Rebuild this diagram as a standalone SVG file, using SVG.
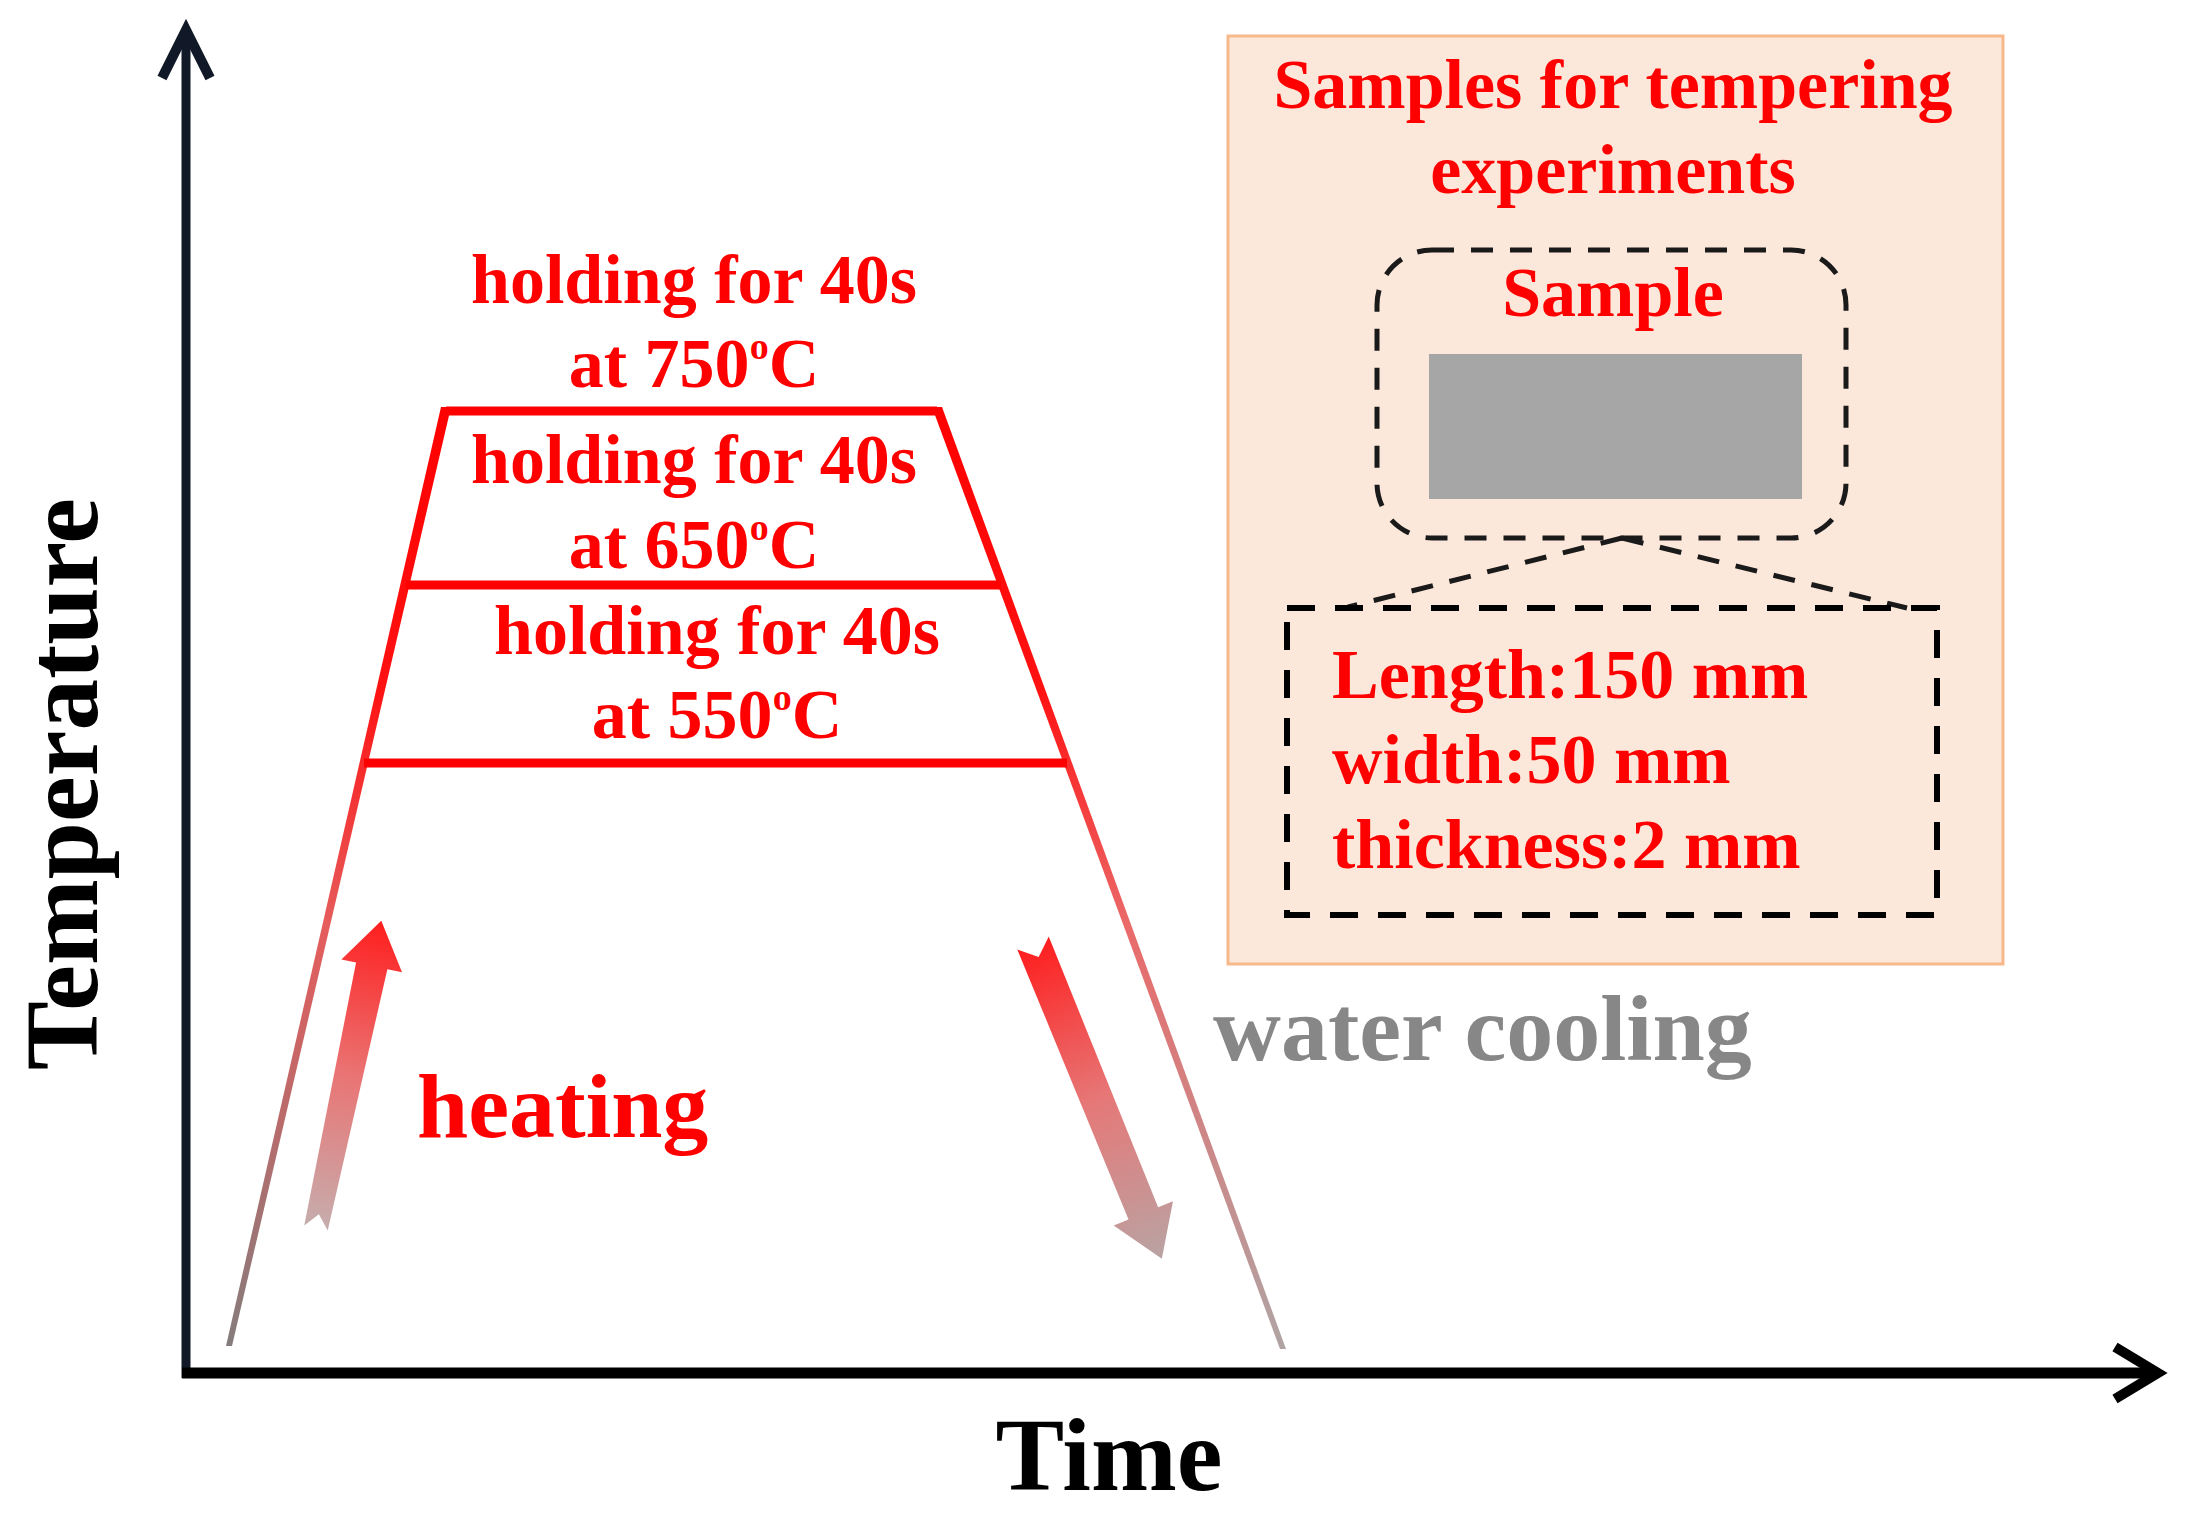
<svg xmlns="http://www.w3.org/2000/svg" width="2199" height="1534" viewBox="0 0 2199 1534">
<defs>
<linearGradient id="sideL" gradientUnits="userSpaceOnUse" x1="0" y1="407" x2="0" y2="1346">
<stop offset="0" stop-color="#ff0000"/>
<stop offset="0.3" stop-color="#ff1212"/>
<stop offset="0.55" stop-color="#e65c5c"/>
<stop offset="1" stop-color="#857c7c"/>
</linearGradient>
<linearGradient id="sideR" gradientUnits="userSpaceOnUse" x1="0" y1="407" x2="0" y2="1349">
<stop offset="0" stop-color="#ff0000"/>
<stop offset="0.3" stop-color="#ff1212"/>
<stop offset="0.55" stop-color="#ea6a6a"/>
<stop offset="1" stop-color="#b0a4a4"/>
</linearGradient>
<linearGradient id="heatG" x1="0" y1="1" x2="0" y2="0">
<stop offset="0" stop-color="#c6adad"/>
<stop offset="0.5" stop-color="#ea7474"/>
<stop offset="1" stop-color="#ff1e1e"/>
</linearGradient>
<linearGradient id="coolG" x1="0" y1="1" x2="0" y2="0">
<stop offset="0" stop-color="#ff1e1e"/>
<stop offset="0.5" stop-color="#e67878"/>
<stop offset="1" stop-color="#b9a3a3"/>
</linearGradient>
</defs>
<style>
.t{font-family:"Liberation Serif","Times New Roman",serif;font-weight:bold}
.red{fill:#ff0000}
.lbl{font-size:70px}
.big{font-size:103px;fill:#000}
.hold{stroke:#ff0000;stroke-width:9;fill:none}
.dash{fill:none;stroke:#1a1a1a;stroke-width:5;stroke-dasharray:22 17}
.dash2{fill:none;stroke:#000;stroke-width:6;stroke-dasharray:28 20}
.axis{fill:none;stroke-linecap:butt;stroke-linejoin:miter}
</style>
<rect width="2199" height="1534" fill="#fff"/>

<g id="axes">
<line class="axis" x1="186" y1="34" x2="186" y2="1378" stroke="#111827" stroke-width="9"/>
<polyline class="axis" points="162,78 186,30 210,78" stroke="#111827" stroke-width="10" stroke-linecap="round"/>
<line class="axis" x1="182" y1="1373" x2="2152" y2="1373" stroke="#000" stroke-width="11"/>
<polyline class="axis" points="2115,1347 2158,1373 2115,1399" stroke="#000" stroke-width="10" stroke-linecap="round"/>
</g>

<g id="axis-labels">
<text class="t big" x="1109" y="1490" text-anchor="middle">Time</text>
<text class="t big" transform="translate(97,784) rotate(-90)" text-anchor="middle">Temperature</text>
</g>

<g id="profile">
<polygon points="441,407 451,407 232,1346 226,1346" fill="url(#sideL)"/>
<polygon points="932,407 942,407 1286,1349 1280,1349" fill="url(#sideR)"/>
<line class="hold" x1="446" y1="411" x2="937" y2="411"/>
<line class="hold" x1="406" y1="585" x2="1001" y2="585"/>
<line class="hold" x1="364" y1="763" x2="1067" y2="763"/>
</g>

<g id="hold-750">
<text class="t red lbl" x="694" y="303" text-anchor="middle">holding for 40s</text>
<text class="t red lbl" x="694" y="387" text-anchor="middle">at 750<tspan font-size="38" dy="-28">o</tspan><tspan dy="28">C</tspan></text>
</g>
<g id="hold-650">
<text class="t red lbl" x="694" y="483" text-anchor="middle">holding for 40s</text>
<text class="t red lbl" x="694" y="568" text-anchor="middle">at 650<tspan font-size="38" dy="-28">o</tspan><tspan dy="28">C</tspan></text>
</g>
<g id="hold-550">
<text class="t red lbl" x="717" y="654" text-anchor="middle">holding for 40s</text>
<text class="t red lbl" x="717" y="738" text-anchor="middle">at 550<tspan font-size="38" dy="-28">o</tspan><tspan dy="28">C</tspan></text>
</g>

<g id="heating">
<polygon transform="translate(316,1228) rotate(12)" points="-12,0 0,-14 12,0 16,-268 31,-268 0,-314 -31,-268 -16,-268" fill="url(#heatG)"/>
<text class="t red" x="417" y="1137" font-size="92">heating</text>
</g>

<g id="cooling">
<polygon transform="translate(1033,943) rotate(157.8)" points="-17,0 0,-15 17,0 16,-292 32,-292 0,-341 -32,-292 -16,-292" fill="url(#coolG)"/>
<text class="t" x="1213" y="1060" font-size="94" fill="#878787">water cooling</text>
</g>

<g id="sample-panel">
<rect x="1228" y="36" width="775" height="928" fill="#fce8da" stroke="#f7b88c" stroke-width="3"/>
<text class="t red lbl" x="1613" y="108" text-anchor="middle">Samples for tempering</text>
<text class="t red lbl" x="1613" y="193" text-anchor="middle">experiments</text>
</g>

<g id="sample">
<rect class="dash" x="1377" y="250" width="469" height="288" rx="55" ry="55"/>
<text class="t red lbl" x="1613" y="316" text-anchor="middle">Sample</text>
<rect x="1429" y="354" width="373" height="145" fill="#a6a6a6"/>
</g>

<g id="connectors">
<line class="dash" x1="1622" y1="538" x2="1348" y2="607"/>
<line class="dash" x1="1622" y1="538" x2="1907" y2="608"/>
</g>

<g id="dimensions">
<rect class="dash2" x="1287" y="608" width="650" height="307"/>
<text class="t red lbl" x="1332" y="698">Length:150 mm</text>
<text class="t red lbl" x="1332" y="783">width:50 mm</text>
<text class="t red lbl" x="1332" y="868">thickness:2 mm</text>
</g>
</svg>
